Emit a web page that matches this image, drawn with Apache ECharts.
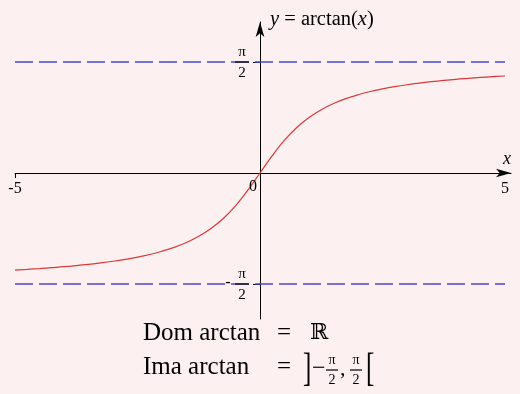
<!DOCTYPE html>
<html>
<head>
<meta charset="utf-8">
<script src="https://cdn.jsdelivr.net/npm/echarts@6/dist/echarts.min.js"></script>
<style>
  html, body { margin: 0; padding: 0; background: #fdf0f0; }
  #chart { width: 520px; height: 394px; }
</style>
</head>
<body>
<div id="chart"></div>
<script>
// Sample points of y = arctan(x) on [-5, 5], step 0.25
const xValues = [-5, -4.75, -4.5, -4.25, -4, -3.75, -3.5, -3.25, -3, -2.75, -2.5, -2.25, -2, -1.75, -1.5, -1.25,
                 -1, -0.75, -0.5, -0.25, 0, 0.25, 0.5, 0.75, 1, 1.25, 1.5, 1.75, 2, 2.25, 2.5, 2.75,
                 3, 3.25, 3.5, 3.75, 4, 4.25, 4.5, 4.75, 5];
const yValues = [-1.373, -1.363, -1.352, -1.339, -1.326, -1.310, -1.292, -1.272, -1.249, -1.222, -1.190, -1.153, -1.107, -1.052, -0.983, -0.896,
                 -0.785, -0.644, -0.464, -0.245, 0, 0.245, 0.464, 0.644, 0.785, 0.896, 0.983, 1.052, 1.107, 1.153, 1.190, 1.222,
                 1.249, 1.272, 1.292, 1.310, 1.326, 1.339, 1.352, 1.363, 1.373];
// Horizontal asymptotes y = ±π/2
const asymptotes = [1.5708, -1.5708];
const asymptoteLabels = ['π/2', '-π/2'];
// Tick labels on the x axis
const xTickValues = [-5, 5];
const xTickLabels = ['-5', '5'];

const SERIF = '"Liberation Serif", "DejaVu Serif", serif';

const chart = echarts.init(document.getElementById('chart'), null, { renderer: 'canvas' });

const curve = xValues.map((x, i) => [x, yValues[i]]);

chart.setOption({
  backgroundColor: '#fdf0f0',
  animation: false,
  grid: { left: 15, top: 22, width: 496, height: 297, containLabel: false },
  xAxis: {
    type: 'value',
    min: -5,
    max: 5.122,
    splitLine: { show: false },
    axisLine: {
      onZero: true,
      lineStyle: { color: '#000', width: 1 },
      symbol: ['none', 'arrow'],
      symbolSize: [6.5, 15]
    },
    axisTick: { customValues: [-5], length: 5, lineStyle: { color: '#000' } },
    axisLabel: { show: false }
  },
  yAxis: {
    type: 'value',
    min: -2.066,
    max: 2.137,
    splitLine: { show: false },
    axisLine: {
      onZero: true,
      lineStyle: { color: '#000', width: 1 },
      symbol: ['none', 'arrow'],
      symbolSize: [6.5, 15]
    },
    axisTick: { customValues: asymptotes, length: 7, lineStyle: { color: '#000' } },
    axisLabel: { show: false }
  },
  series: [{
    type: 'line',
    data: curve,
    smooth: 0.4,
    showSymbol: false,
    lineStyle: { color: '#d93a3a', width: 1.2 },
    markLine: {
      silent: true,
      symbol: 'none',
      label: { show: false },
      lineStyle: { color: '#4a4ac0', width: 1.5, type: [18, 6] },
      data: asymptotes.map(a => [{ coord: [-5, a] }, { coord: [5, a] }])
    },
    z: 3
  }]
});

// Annotations placed relative to the axes
const origin = chart.convertToPixel({ gridIndex: 0 }, [0, 0]);
const graphics = [];

function label(text, x, y, size, extra) {
  return { type: 'text', x: x, y: y, z: 10,
    style: Object.assign({ text: text, fontFamily: SERIF, fontSize: size, fill: '#000',
      textAlign: 'center', textVerticalAlign: 'middle' }, extra || {}) };
}

function fraction(cx, cy, size, num, den, barW) {
  return [
    label(num, cx, cy - size * 0.68, size),
    { type: 'line', z: 10, shape: { x1: cx - barW / 2, y1: cy, x2: cx + barW / 2, y2: cy },
      style: { stroke: '#000', lineWidth: 1.2 } },
    label(den, cx, cy + size * 0.72, size)
  ];
}

// x tick labels
xTickValues.forEach((v, i) => {
  const p = chart.convertToPixel({ gridIndex: 0 }, [v, 0]);
  graphics.push(label(xTickLabels[i], p[0], p[1] + 16, 16));
});

// asymptote labels on the y axis
asymptotes.forEach((a, i) => {
  const p = chart.convertToPixel({ gridIndex: 0 }, [0, a]);
  const cx = p[0] - 18;
  graphics.push(...fraction(cx, p[1], 15, 'π', '2', 14));
  if (asymptoteLabels[i].startsWith('-')) {
    graphics.push(label('-', cx - 14, p[1] - 1, 16));
  }
});

// origin label
graphics.push(label('0', origin[0] - 7, origin[1] + 14, 16));

// axis names
graphics.push(label('x', 507, origin[1] - 14, 18, { fontStyle: 'italic' }));
graphics.push({ type: 'text', x: origin[0] + 10, y: 20, z: 10,
  style: {
    text: '{i|y} = arctan({i|x})',
    fontFamily: SERIF, fontSize: 20.5, fill: '#000', textAlign: 'left', textVerticalAlign: 'middle',
    rich: { i: { fontFamily: SERIF, fontSize: 20.5, fontStyle: 'italic', fill: '#000' } }
  } });

// Domain and range
const T = 25;
function txt(text, x, y, opts) {
  return label(text, x, y, T, Object.assign({ textAlign: 'left' }, opts || {}));
}
graphics.push(txt('Dom arctan', 143, 333));
graphics.push(txt('=', 277, 333));
graphics.push(txt('ℝ', 310, 333, { fontSize: 22 }));
graphics.push(txt('Ima arctan', 143, 367));
graphics.push(txt('=', 277, 367));
const br1 = txt(']', 303, 370); br1.scaleY = 1.6; graphics.push(br1);
graphics.push(txt('−', 312, 369, { fontSize: 24 }));
graphics.push(...fraction(332, 370, 14, 'π', '2', 12));
graphics.push(txt(',', 340, 369, { fontSize: 22 }));
graphics.push(...fraction(356, 370, 14, 'π', '2', 12));
const br2 = txt('[', 366, 370); br2.scaleY = 1.6; graphics.push(br2);

chart.setOption({ graphic: graphics });
</script>
</body>
</html>
